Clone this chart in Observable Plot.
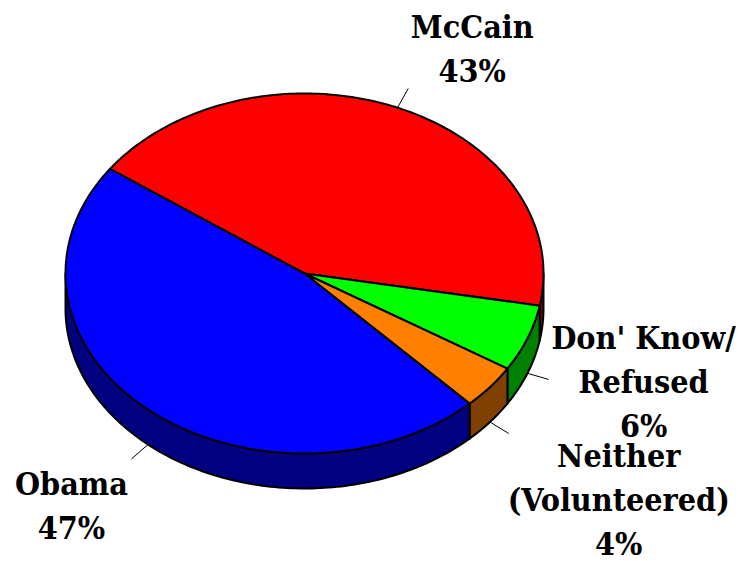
<!DOCTYPE html>
<html><head><meta charset="utf-8">
<script src="https://cdn.jsdelivr.net/npm/d3@7"></script>
<script src="https://cdn.jsdelivr.net/npm/@observablehq/plot@0.6"></script>
<style>html,body{margin:0;padding:0;background:#fff}</style>
</head><body><div id="chart"></div>
<script>
// ---- data ----
const categories = ["McCain", "Don' Know/Refused", "Neither (Volunteered)", "Obama"];
const values = [43, 6, 4, 47];
const labels = ["McCain\n43%", "Don' Know/\nRefused\n6%", "Neither\n(Volunteered)\n4%", "Obama\n47%"];
const topColors = ["#ff0000", "#00ff00", "#ff8000", "#0000ff"];
const sideColors = ["#800000", "#008000", "#804000", "#000080"];

// ---- layout ----
const W = 746, H = 561;
const cx = 304, cy = 273, rx = 239, ry = 180, depth = 35;
const startDeg = 215.5;
const leaderLen = 22;
const labelOffsets = [[64, -6], [95, 58], [110, 121], [-60, 80]];
const serif = "'DejaVu Serif Condensed', 'DejaVu Serif', serif";

const total = d3.sum(values);
let acc = startDeg;
const slices = values.map((v, i) => {
  const a0 = acc, a1 = acc + v / total * 360; acc = a1;
  return {i, a0, a1, mid: (a0 + a1) / 2};
});
const rad = d => d * Math.PI / 180;
const pt = (deg, dz = 0) => [cx + rx * Math.cos(rad(deg)), cy + ry * Math.sin(rad(deg)) + dz];
function arc(a0, a1, dz = 0) {
  const n = Math.max(2, Math.ceil(Math.abs(a1 - a0)));
  return d3.range(n + 1).map(k => pt(a0 + (a1 - a0) * k / n, dz));
}

const topPolys = [], sidePolys = [];
slices.forEach(s => {
  const pts = [[cx, cy], ...arc(s.a0, s.a1), [cx, cy]];
  pts.forEach(([x, y]) => topPolys.push({id: "t" + s.i, x, y, fill: topColors[s.i]}));
  for (const off of [0, 360, -360]) {
    const lo = Math.max(s.a0, off), hi = Math.min(s.a1, 180 + off);
    if (hi > lo) {
      const up = arc(lo, hi), down = arc(hi, lo, depth);
      [...up, ...down, up[0]].forEach(([x, y]) =>
        sidePolys.push({id: "s" + s.i + "_" + off, x, y, fill: sideColors[s.i]}));
    }
  }
});

const leaders = slices.map(s => {
  const m = rad(s.mid);
  const front = Math.sin(m) > 0;
  const [x1, y1] = pt(s.mid, front ? depth : 0);
  const dx = rx * Math.cos(m), dy = ry * Math.sin(m), L = Math.hypot(dx, dy);
  const x2 = x1 + leaderLen * dx / L, y2 = y1 + leaderLen * dy / L;
  return {x1, y1, x2, y2, label: labels[s.i],
          lx: x2 + labelOffsets[s.i][0], ly: y2 + labelOffsets[s.i][1]};
});

const chart = Plot.plot({
  width: W, height: H, margin: 0,
  x: {domain: [0, W], range: [0, W], axis: null},
  y: {domain: [0, H], range: [0, H], axis: null},
  color: {type: "identity"},
  style: {background: "white", overflow: "visible", fontFamily: serif},
  marks: [
    Plot.line(sidePolys, {x: "x", y: "y", z: "id", fill: "fill", stroke: "black", strokeWidth: 2, strokeLinejoin: "round", curve: "linear"}),
    Plot.line(topPolys, {x: "x", y: "y", z: "id", fill: "fill", stroke: "black", strokeWidth: 2, strokeLinejoin: "round", curve: "linear"}),
    Plot.link(leaders, {x1: "x1", y1: "y1", x2: "x2", y2: "y2", stroke: "black", strokeWidth: 1}),
    Plot.text(leaders, {x: "lx", y: "ly", text: "label", fontSize: 32, fontWeight: "bold",
      fontFamily: serif, lineAnchor: "bottom", lineHeight: 1.375, textAnchor: "middle", fill: "black"})
  ]
});
document.getElementById("chart").appendChild(chart);
</script>
</body></html>
